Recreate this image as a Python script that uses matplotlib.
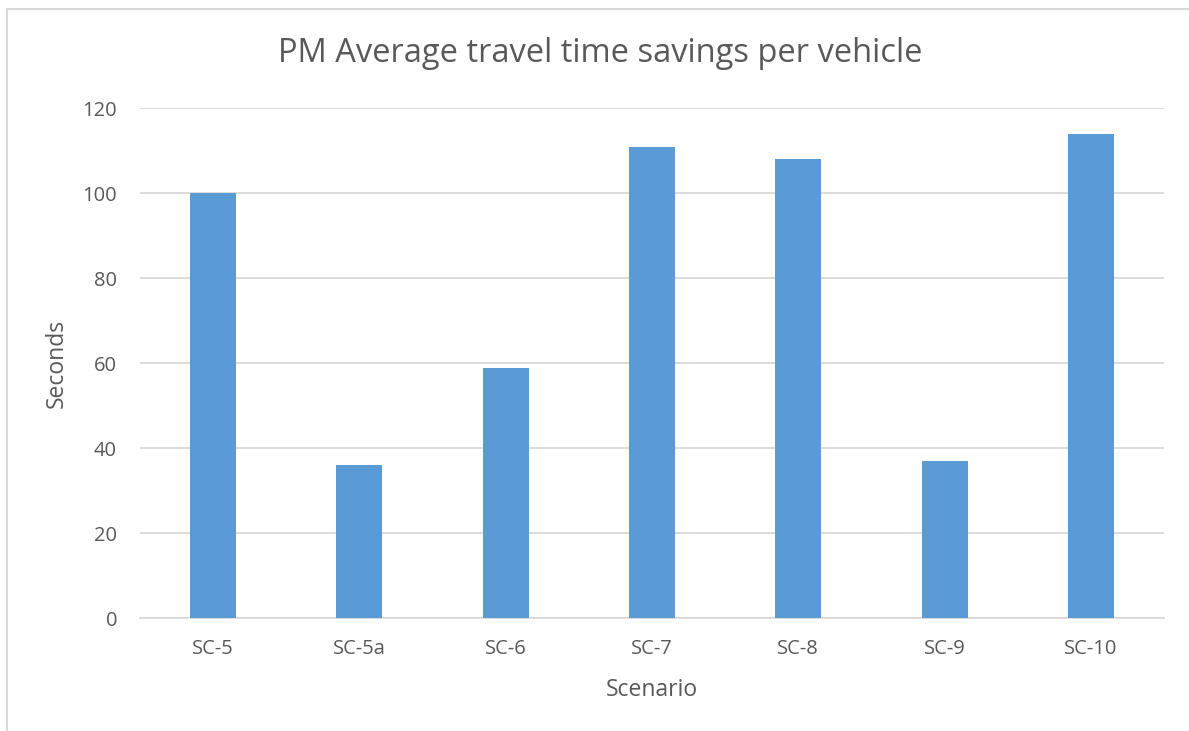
import matplotlib.pyplot as plt
import numpy as np

# data
scenarios = ['SC-5', 'SC-5a', 'SC-6', 'SC-7', 'SC-8', 'SC-9', 'SC-10']
seconds = [100, 36, 59, 111, 108, 37, 114]
yticks = [0, 20, 40, 60, 80, 100, 120]

plt.rcParams['font.family'] = ['Open Sans', 'DejaVu Sans']
text_col = '#595959'
grid_col = '#D9D9D9'

fig = plt.figure(figsize=(11.89, 7.31), dpi=100)
ax = fig.add_axes([140/1189, 1 - 618.3/731, 1024/1189, (618.3 - 108.3)/731])

x = np.arange(len(scenarios))
ax.bar(x, seconds, width=0.314, color='#5B9BD5', zorder=3)

ax.set_xlim(-0.5, len(scenarios) - 0.5)
ax.set_ylim(0, 120)
ax.set_yticks(yticks)
ax.set_xticks(x)
ax.set_xticklabels(scenarios)
ax.grid(axis='y', color=grid_col, linewidth=1.3, zorder=0)
for s in ['top', 'right', 'left']:
    ax.spines[s].set_visible(False)
ax.spines['bottom'].set_color(grid_col)
ax.spines['bottom'].set_linewidth(1.3)
ax.tick_params(axis='both', length=0, colors=text_col, labelsize=14.5)
ax.tick_params(axis='x', pad=15)
ax.tick_params(axis='y', pad=16.5)

fig.text(652/1189, 1 - 690/731, 'Scenario', ha='center', va='center', fontsize=16.5, color=text_col)
fig.text(57/1189, 1 - 363/731, 'Seconds', ha='center', va='center', rotation=90, fontsize=16.5, color=text_col)
fig.text(600/1189, 1 - 54/731, 'PM Average travel time savings per vehicle', ha='center', va='center',
         fontsize=23.5, color=text_col)

# chart border (cropped screenshot: only top and left edges visible)
fig.add_artist(plt.Line2D([7/1189, 7/1189], [0, 1 - 9/731], transform=fig.transFigure, color=grid_col, linewidth=1.5))
fig.add_artist(plt.Line2D([7/1189, 1], [1 - 9/731, 1 - 9/731], transform=fig.transFigure, color=grid_col, linewidth=1.5))

fig.savefig('out.png', dpi=100)
